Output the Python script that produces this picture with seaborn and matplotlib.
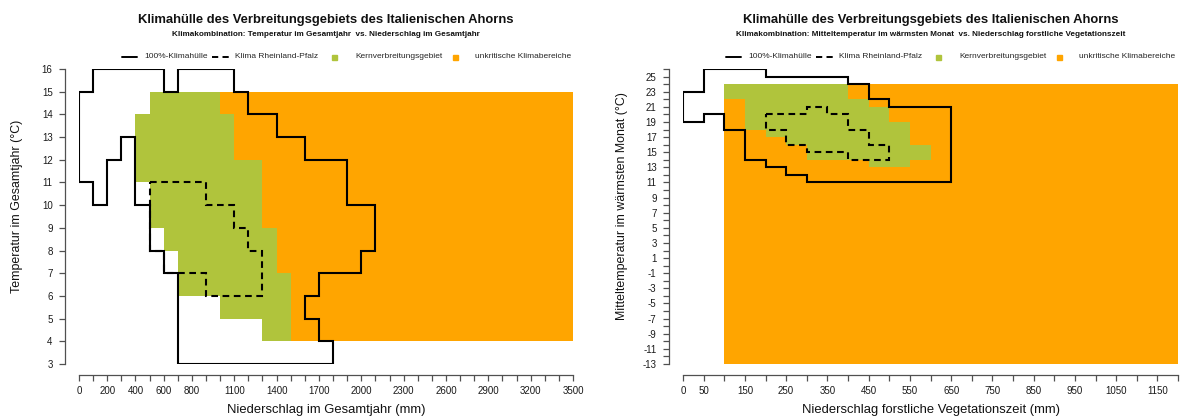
import numpy as np
import matplotlib
matplotlib.use("Agg")
import matplotlib.pyplot as plt
import seaborn as sns

sns.set_style("white")
plt.rcParams["font.family"] = ["Liberation Sans", "DejaVu Sans"]

# ---------------- data: annual temperature vs annual precipitation ----------------
left_rows = [4, 5, 6, 7, 8, 9, 10, 11, 12, 13, 14]            # lower edge of 1 °C rows
left_green_from = [1300, 1000, 700, 700, 600, 500, 500, 400, 400, 400, 500]
left_green_to = [1500, 1500, 1500, 1400, 1400, 1300, 1300, 1300, 1100, 1100, 1000]
left_orange_from = [1500, 1500, 1500, 1400, 1400, 1300, 1300, 1300, 1100, 1100, 1000]
left_orange_to = [3500] * 11

left_env_x = [100, 600, 600, 700, 700, 1100, 1100, 1200, 1200, 1400, 1400, 1600, 1600,
              1900, 1900, 2100, 2100, 2000, 2000, 1700, 1700, 1600, 1600, 1700, 1700,
              1800, 1800, 700, 700, 600, 600, 500, 500, 400, 400, 300, 300, 200, 200,
              100, 100, 0, 0, 100, 100]
left_env_y = [16, 16, 15, 15, 16, 16, 15, 15, 14, 14, 13, 13, 12, 12, 10, 10, 8, 8, 7,
              7, 6, 6, 5, 5, 4, 4, 3, 3, 7, 7, 8, 8, 10, 10, 13, 13, 12, 12, 10, 10, 11,
              11, 15, 15, 16]
left_rlp_x = [500, 900, 900, 1100, 1100, 1200, 1200, 1300, 1300, 900, 900, 700, 600, 600,
              500, 500]
left_rlp_y = [11, 11, 10, 10, 9, 9, 8, 8, 6, 6, 7, 7, 7, 8, 8, 11]

left_xticks = list(range(0, 3501, 100))
left_xlabels_shown = [0, 200, 400, 600, 800, 1100, 1400, 1700, 2000, 2300, 2600, 2900,
                      3200, 3500]
left_yticks = list(range(3, 17))

# ------- data: warmest-month temperature vs precipitation in the growing season -------
right_rows = [13, 14, 15, 16, 17, 18, 19, 20, 21, 22, 23]
right_green_from = [450, 300, 300, 250, 200, 150, 150, 150, 150, 100, 100]
right_green_to = [550, 600, 600, 550, 550, 550, 500, 500, 450, 400, 400]
right_orange_bottom = -13
right_orange_top = 24
right_orange_from = 100
right_orange_to = 1200

right_env_x = [50, 200, 200, 400, 400, 450, 450, 500, 500, 650, 650, 300, 300, 250, 250,
               200, 200, 150, 150, 100, 100, 50, 50, 0, 0, 50, 50]
right_env_y = [26, 26, 25, 25, 24, 24, 22, 22, 21, 21, 11, 11, 12, 12, 13, 13, 14, 14,
               18, 18, 20, 20, 19, 19, 23, 23, 26]
right_rlp_x = [200, 300, 300, 350, 350, 400, 400, 450, 450, 500, 500, 400, 400, 300, 300,
               250, 250, 200, 200]
right_rlp_y = [20, 20, 21, 21, 20, 20, 18, 18, 16, 16, 14, 14, 15, 15, 16, 16, 18, 18, 20]

right_xticks = list(range(0, 1201, 50))
right_xlabels_shown = [0, 50] + list(range(150, 1151, 100))
right_yticks = list(range(-13, 27))
right_ylabels_shown = list(range(-13, 26, 2))

GREEN = "#B0C43C"
ORANGE = "#FFA500"
AXCOL = "#505050"

title = "Klimahülle des Verbreitungsgebiets des Italienischen Ahorns"
subtitles = ["Klimakombination: Temperatur im Gesamtjahr  vs. Niederschlag im Gesamtjahr",
             "Klimakombination: Mitteltemperatur im wärmsten Monat  vs. Niederschlag forstliche Vegetationszeit"]
xlabels = ["Niederschlag im Gesamtjahr (mm)", "Niederschlag forstliche Vegetationszeit (mm)"]
ylabels = ["Temperatur im Gesamtjahr (°C)", "Mitteltemperatur im wärmsten Monat (°C)"]
legend_labels = ["100%-Klimahülle", "Klima Rheinland-Pfalz", "Kernverbreitungsgebiet",
                 "unkritische Klimabereiche"]

W, H = 1180, 417
fig = plt.figure(figsize=(W / 100, H / 100), dpi=100)


def axes_px(left, right, top, bottom):
    return fig.add_axes([left / W, 1 - bottom / H, (right - left) / W, (bottom - top) / H])


def fx(px):
    return px / W


def fy(py):
    return 1 - py / H


panels = [dict(l=79, r=573), dict(l=683, r=1178)]
TOP, BOTTOM = 69, 364

ax1 = axes_px(panels[0]["l"], panels[0]["r"], TOP, BOTTOM)
ax2 = axes_px(panels[1]["l"], panels[1]["r"], TOP, BOTTOM)

# cells
cell_kw = dict(height=1, align="edge", linewidth=0, antialiased=False)
ax1.barh(left_rows, np.subtract(left_orange_to, left_orange_from), left=left_orange_from,
         color=ORANGE, zorder=1, **cell_kw)
ax1.barh(left_rows, np.subtract(left_green_to, left_green_from), left=left_green_from,
         color=GREEN, zorder=2, **cell_kw)

ax2.bar([right_orange_from], [right_orange_top - right_orange_bottom],
        width=right_orange_to - right_orange_from, bottom=right_orange_bottom,
        align="edge", color=ORANGE, linewidth=0, antialiased=False, zorder=1)
ax2.barh(right_rows, np.subtract(right_green_to, right_green_from), left=right_green_from,
         color=GREEN, zorder=2, **cell_kw)

# outlines
line_kw = dict(sort=False, estimator=None, color="black", linewidth=1.5, legend=False)
sns.lineplot(x=left_env_x, y=left_env_y, ax=ax1, zorder=4, **line_kw)
sns.lineplot(x=left_rlp_x, y=left_rlp_y, ax=ax1, zorder=5, linestyle=(0, (3.2, 2.2)), **line_kw)
sns.lineplot(x=right_env_x, y=right_env_y, ax=ax2, zorder=4, **line_kw)
sns.lineplot(x=right_rlp_x, y=right_rlp_y, ax=ax2, zorder=5, linestyle=(0, (3.2, 2.2)), **line_kw)

for ax in (ax1, ax2):
    for ln in ax.lines:
        ln.set_solid_joinstyle("miter")
        ln.set_dash_joinstyle("miter")

ax1.set_xlim(0, 3500)
ax1.set_ylim(3, 16)
ax2.set_xlim(0, 1200)
ax2.set_ylim(-13, 26)

ax1.set_xticks(left_xticks)
ax1.set_xticklabels([str(v) if v in left_xlabels_shown else "" for v in left_xticks])
ax1.set_yticks(left_yticks)
ax1.set_yticklabels([str(v) for v in left_yticks])
ax2.set_xticks(right_xticks)
ax2.set_xticklabels([str(v) if v in right_xlabels_shown else "" for v in right_xticks])
ax2.set_yticks(right_yticks)
ax2.set_yticklabels([str(v) if v in right_ylabels_shown else "" for v in right_yticks])

for ax, (x0, x1), (y0, y1) in ((ax1, (0, 3500), (3, 16)), (ax2, (0, 1200), (-13, 26))):
    ax.set_facecolor("white")
    for s in ("top", "right"):
        ax.spines[s].set_visible(False)
    ax.spines["left"].set_position(("outward", 10))
    ax.spines["bottom"].set_position(("outward", 8))
    ax.spines["left"].set_bounds(y0, y1)
    ax.spines["bottom"].set_bounds(x0, x1)
    for s in ("left", "bottom"):
        ax.spines[s].set_color(AXCOL)
        ax.spines[s].set_linewidth(0.9)
    ax.tick_params(axis="both", which="both", length=4.5, width=0.9, color=AXCOL,
                   labelsize=7, labelcolor="#1a1a1a", left=True, bottom=True)
    ax.tick_params(axis="x", pad=3.5)
    ax.tick_params(axis="y", pad=4.5)
    ax.set_xlabel("")
    ax.set_ylabel("")
    ax.grid(False)

# titles, axis labels, legends
for i, p in enumerate(panels):
    cx = (p["l"] + p["r"]) / 2
    fig.text(fx(cx), fy(20.5), title, ha="center", va="center", fontsize=9.4,
             fontweight="bold", color="#111111")
    fig.text(fx(cx), fy(34), subtitles[i], ha="center", va="center", fontsize=5.9,
             fontweight="bold", color="#111111")
    fig.text(fx(cx), fy(410), xlabels[i], ha="center", va="center", fontsize=9.4,
             color="#111111")
    ylx = 17 if i == 0 else 622
    fig.text(fx(ylx), fy(206), ylabels[i], ha="center", va="center",
             rotation=90, fontsize=8.9, color="#111111")

    L = p["l"]
    ly = fy(57)
    fig.add_artist(plt.Line2D([fx(L + 43), fx(L + 58)], [ly, ly], color="black", lw=1.4))
    fig.text(fx(L + 65), ly, legend_labels[0], ha="left", va="center", fontsize=6)
    fig.add_artist(plt.Line2D([fx(L + 133), fx(L + 150)], [ly, ly], color="black", lw=1.4,
                              linestyle=(0, (3.2, 2.2))))
    fig.text(fx(L + 156), ly, legend_labels[1], ha="left", va="center", fontsize=6)
    fig.add_artist(plt.Line2D([fx(L + 255)], [ly], marker="s", markersize=3.6, color=GREEN,
                              linestyle="none"))
    fig.text(fx(L + 276), ly, legend_labels[2], ha="left", va="center", fontsize=6)
    fig.add_artist(plt.Line2D([fx(L + 376)], [ly], marker="s", markersize=3.6, color=ORANGE,
                              linestyle="none"))
    fig.text(fx(L + 396), ly, legend_labels[3], ha="left", va="center", fontsize=6)

fig.savefig("out.png", dpi=100, facecolor="white")
